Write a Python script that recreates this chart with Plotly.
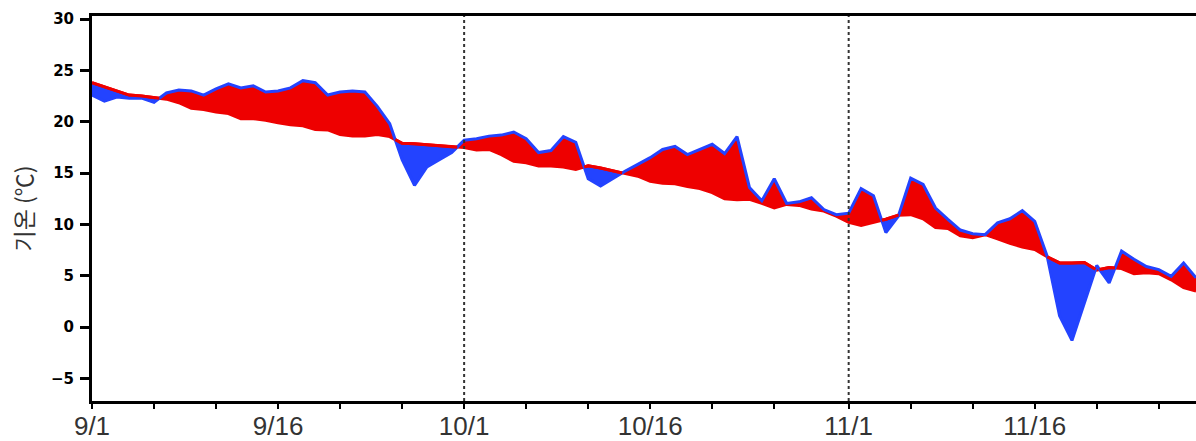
import pandas as pd
import plotly.graph_objects as go

# ---- data -------------------------------------------------------------
start_date = "2023-09-01"
n_days = 90
actual_temp = [
    22.6, 22.0, 22.4, 22.3, 22.3, 21.9, 22.8, 23.1, 23.0, 22.6,
    23.2, 23.7, 23.3, 23.5, 22.9, 23.0, 23.3, 24.0, 23.8, 22.6,
    22.9, 23.0, 22.9, 21.5, 19.8, 16.3, 13.8, 15.6, 16.3, 17.0,
    18.2, 18.35, 18.6, 18.7, 19.0, 18.35, 17.0, 17.2, 18.55, 18.0,
    14.45, 13.75, 14.5, 15.2, 15.85, 16.5, 17.3, 17.6, 16.8, 17.3,
    17.8, 16.9, 18.55, 13.6, 12.3, 14.45, 12.05, 12.2, 12.6, 11.45,
    10.95, 11.1, 13.5, 12.8, 9.2, 10.8, 14.5, 13.9, 11.6, 10.5,
    9.45, 9.1, 9.0, 10.15, 10.55, 11.35, 10.3, 6.9, 1.1, -1.3,
    2.3, 6.0, 4.3, 7.4, 6.6, 5.9, 5.6, 4.95, 6.25, 4.8,
]
normal_temp = [
    23.8, 23.4, 23.0, 22.6, 22.5, 22.35, 22.2, 21.85, 21.3, 21.2,
    20.95, 20.8, 20.3, 20.3, 20.15, 19.9, 19.7, 19.6, 19.25, 19.2,
    18.75, 18.6, 18.6, 18.75, 18.55, 17.9, 17.85, 17.75, 17.7, 17.55,
    17.5, 17.25, 17.3, 16.8, 16.15, 16.0, 15.7, 15.7, 15.6, 15.35,
    15.7, 15.5, 15.2, 14.95, 14.7, 14.2, 14.0, 13.95, 13.7, 13.5,
    13.1, 12.5, 12.4, 12.45, 12.05, 11.6, 11.95, 11.85, 11.5, 11.3,
    10.8, 10.2, 9.9, 10.2, 10.5, 10.9, 10.95, 10.55, 9.7, 9.6,
    8.9, 8.7, 9.0, 8.6, 8.15, 7.8, 7.55, 6.85, 6.25, 6.25,
    6.3, 5.55, 5.8, 5.7, 5.2, 5.3, 5.2, 4.6, 3.85, 3.5,
]
y_ticks = [-5, 0, 5, 10, 15, 20, 25, 30]
tick_days_of_month = [1, 6, 11, 16, 21, 26]
label_days_of_month = [1, 16]
y_title = "기온 (℃)"

RED = "#ee0000"
BLUE = "#2343ff"

dates = pd.date_range(start_date, periods=n_days)
x_days = [(d - dates[0]).days for d in dates]

# ---- insert crossing points so fills switch colour exactly ------------
xs, a_s, n_s = [], [], []
for i in range(len(x_days)):
    xs.append(x_days[i]); a_s.append(actual_temp[i]); n_s.append(normal_temp[i])
    if i < len(x_days) - 1:
        d0 = actual_temp[i] - normal_temp[i]
        d1 = actual_temp[i + 1] - normal_temp[i + 1]
        if d0 * d1 < 0:
            t = d0 / (d0 - d1)
            xc = x_days[i] + t * (x_days[i + 1] - x_days[i])
            yc = normal_temp[i] + t * (normal_temp[i + 1] - normal_temp[i])
            xs.append(xc); a_s.append(yc); n_s.append(yc)

upper = [max(a, n) for a, n in zip(a_s, n_s)]
lower = [min(a, n) for a, n in zip(a_s, n_s)]
red_top = [n if a <= n + 1e-9 else None for a, n in zip(a_s, n_s)]

fig = go.Figure()
fig.add_trace(go.Scatter(x=xs, y=n_s, mode="lines", line=dict(width=0), hoverinfo="skip", showlegend=False))
fig.add_trace(go.Scatter(x=xs, y=upper, mode="lines", line=dict(width=0), fill="tonexty",
                         fillcolor=RED, hoverinfo="skip", showlegend=False))
fig.add_trace(go.Scatter(x=xs, y=n_s, mode="lines", line=dict(width=0), hoverinfo="skip", showlegend=False))
fig.add_trace(go.Scatter(x=xs, y=lower, mode="lines", line=dict(width=0), fill="tonexty",
                         fillcolor=BLUE, hoverinfo="skip", showlegend=False))
fig.add_trace(go.Scatter(x=xs, y=n_s, mode="lines", line=dict(color=RED, width=3), showlegend=False, name="평년"))
fig.add_trace(go.Scatter(x=xs, y=a_s, mode="lines", line=dict(color=BLUE, width=3), showlegend=False, name="기온"))
fig.add_trace(go.Scatter(x=xs, y=red_top, mode="lines", line=dict(color=RED, width=3), connectgaps=False,
                         hoverinfo="skip", showlegend=False))

# ---- ticks --------------------------------------------------------------
tickvals, ticktext = [], []
for d in dates:
    if d.day in tick_days_of_month:
        tickvals.append((d - dates[0]).days)
        ticktext.append(f"{d.month}/{d.day}" if d.day in label_days_of_month else "")

# month separators
for d in dates:
    if d.day == 1 and d != dates[0]:
        xv = (d - dates[0]).days
        fig.add_shape(type="line", x0=xv, x1=xv, y0=0, y1=1, xref="x", yref="paper",
                      line=dict(color="#333333", width=2, dash="dot"), layer="above")

fig.update_layout(
    width=1196, height=441,
    margin=dict(l=92, r=0, t=16, b=40, autoexpand=False),
    paper_bgcolor="white", plot_bgcolor="white",
    showlegend=False,
)
fig.update_xaxes(
    range=[0, n_days - 1], tickvals=tickvals, ticktext=ticktext,
    showline=True, linecolor="black", linewidth=3, mirror=True,
    ticks="outside", ticklen=5, tickwidth=2, tickcolor="black",
    tickfont=dict(family="Liberation Sans, Arial, sans-serif", size=26, color="#333333"),
    ticklabelstandoff=-5,
    showgrid=False, zeroline=False, automargin=False,
)
fig.update_yaxes(
    range=[-7.2, 30.3], tickvals=y_ticks,
    showline=True, linecolor="black", linewidth=3,
    ticks="outside", ticklen=9, tickwidth=3, tickcolor="black",
    tickfont=dict(family="DejaVu Sans, sans-serif", size=15, color="black", weight="bold"),
    ticklabelstandoff=3,
    showgrid=False, zeroline=False, automargin=False,
    title=dict(text=y_title, font=dict(family="Noto Sans CJK KR, sans-serif", size=23, color="#333333"),
               standoff=11),
)

fig.write_html("out.html")
